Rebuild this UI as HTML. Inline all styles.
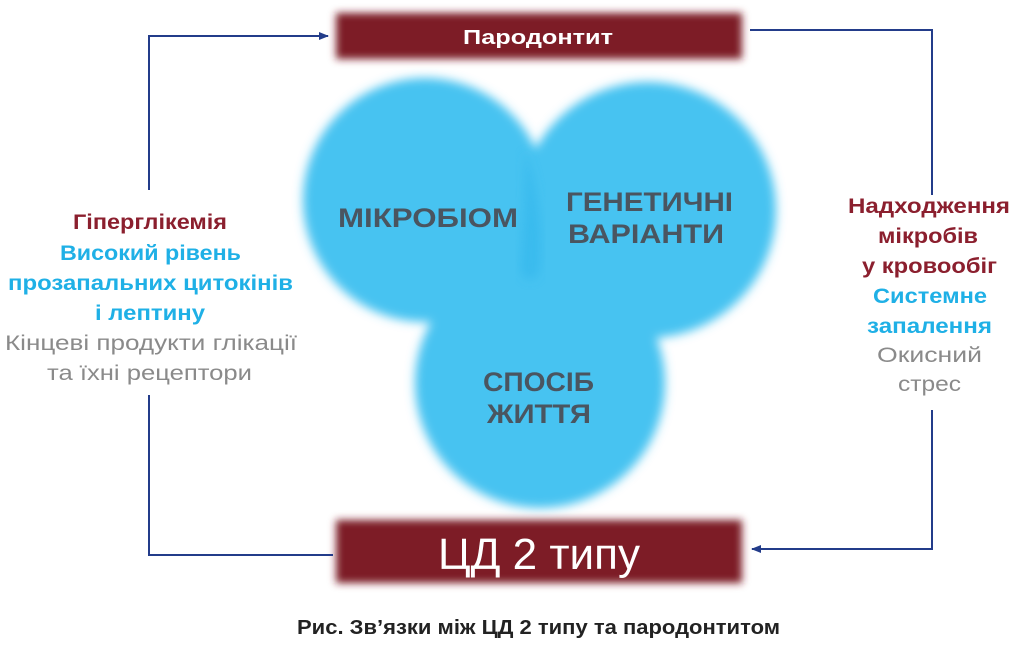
<!DOCTYPE html>
<html><head><meta charset="utf-8"><style>
html,body{margin:0;padding:0;background:#fff;}
body{width:1019px;height:645px;overflow:hidden;}
svg text{font-family:"Liberation Sans","DejaVu Sans",sans-serif;}
</style></head><body>
<svg width="1019" height="645" viewBox="0 0 1019 645" xmlns="http://www.w3.org/2000/svg">
<defs>
<filter id="b" x="-20%" y="-20%" width="140%" height="140%"><feGaussianBlur stdDeviation="4"/></filter>
<filter id="c" x="-20%" y="-20%" width="140%" height="140%"><feGaussianBlur stdDeviation="5"/></filter>
<marker id="a" markerWidth="10" markerHeight="8" refX="9" refY="4" orient="auto" markerUnits="userSpaceOnUse"><path d="M0,0 L10,4 L0,8 z" fill="#233c8a"/></marker>
</defs>
<rect x="336" y="13" width="406" height="46" fill="#7d1a26" filter="url(#b)"/>
<rect x="336" y="520" width="406" height="63" fill="#7d1a26" filter="url(#b)"/>
<g filter="url(#c)" fill="#46c3f1">
<circle cx="425" cy="200" r="122"/>
<circle cx="648" cy="210" r="128"/>
<circle cx="540" cy="383" r="125"/>
</g>
<g fill="#31b6ec" opacity="0.6">
<path d="M525,150 Q545,210 540,270 Q530,290 520,270 Q525,210 525,150z" filter="url(#c)"/>
</g>
<g fill="none" stroke="#233c8a" stroke-width="2">
<polyline points="149,190 149,36 328,36" marker-end="url(#a)"/>
<polyline points="149,395 149,555 333,555"/>
<polyline points="750,30 932,30 932,195"/>
<polyline points="932,410 932,549 752,549" marker-end="url(#a)"/>
</g>
<text x="463" y="44" textLength="150" lengthAdjust="spacingAndGlyphs" font-size="20" font-weight="bold" fill="#fff">Пародонтит</text>
<text x="438" y="569" textLength="202" lengthAdjust="spacingAndGlyphs" font-size="44" fill="#fff">ЦД 2 типу</text>
<g font-size="27" font-weight="bold" fill="#4a5560">
<text x="338" y="227" textLength="180" lengthAdjust="spacingAndGlyphs">МІКРОБІОМ</text>
<text x="566" y="211" textLength="167" lengthAdjust="spacingAndGlyphs">ГЕНЕТИЧНІ</text>
<text x="568" y="243" textLength="156" lengthAdjust="spacingAndGlyphs">ВАРІАНТИ</text>
<text x="483" y="391" textLength="111" lengthAdjust="spacingAndGlyphs">СПОСІБ</text>
<text x="487" y="423" textLength="104" lengthAdjust="spacingAndGlyphs">ЖИТТЯ</text>
</g>
<g font-size="21" font-weight="bold">
<text x="73" y="229" textLength="154" lengthAdjust="spacingAndGlyphs" fill="#8b1f2e">Гіперглікемія</text>
<text x="60" y="260" textLength="181" lengthAdjust="spacingAndGlyphs" fill="#1fb0e6">Високий рівень</text>
<text x="8" y="290" textLength="285" lengthAdjust="spacingAndGlyphs" fill="#1fb0e6">прозапальних цитокінів</text>
<text x="95" y="320" textLength="110" lengthAdjust="spacingAndGlyphs" fill="#1fb0e6">і лептину</text>
<text x="5" y="350" textLength="292" lengthAdjust="spacingAndGlyphs" fill="#8a8a8a" font-weight="normal">Кінцеві продукти глікації</text>
<text x="47" y="380" textLength="205" lengthAdjust="spacingAndGlyphs" fill="#8a8a8a" font-weight="normal">та їхні рецептори</text>
<text x="848" y="213" textLength="162" lengthAdjust="spacingAndGlyphs" fill="#8b1f2e">Надходження</text>
<text x="878" y="243" textLength="100" lengthAdjust="spacingAndGlyphs" fill="#8b1f2e">мікробів</text>
<text x="862" y="273" textLength="135" lengthAdjust="spacingAndGlyphs" fill="#8b1f2e">у кровообіг</text>
<text x="873" y="303" textLength="114" lengthAdjust="spacingAndGlyphs" fill="#1fb0e6">Системне</text>
<text x="867" y="333" textLength="125" lengthAdjust="spacingAndGlyphs" fill="#1fb0e6">запалення</text>
<text x="877" y="362" textLength="105" lengthAdjust="spacingAndGlyphs" fill="#8a8a8a" font-weight="normal">Окисний</text>
<text x="898" y="391" textLength="63" lengthAdjust="spacingAndGlyphs" fill="#8a8a8a" font-weight="normal">стрес</text>
</g>
<text x="297" y="634" textLength="483" lengthAdjust="spacingAndGlyphs" font-size="20" font-weight="bold" fill="#222">Рис. Зв’язки між ЦД 2 типу та пародонтитом</text>
</svg>
</body></html>
